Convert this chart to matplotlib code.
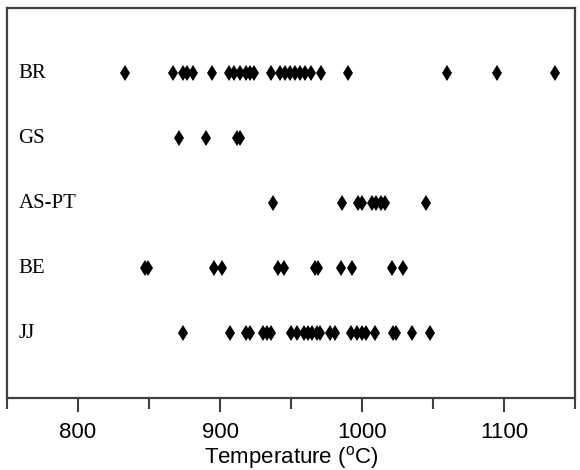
import matplotlib.pyplot as plt
from matplotlib.ticker import MultipleLocator

# Temperature estimates (degC) per locality
groups = ["JJ", "BE", "AS-PT", "GS", "BR"]
jj = [874, 907, 918, 921, 930, 933, 936, 950, 954, 959, 962, 965, 968, 970,
      977, 981, 992, 996, 1000, 1003, 1009, 1022, 1024, 1035, 1048]
be = [847, 849, 896, 901, 941, 945, 967, 969, 985, 993, 1021, 1029]
as_pt = [937, 986, 997, 1000, 1007, 1010, 1013, 1016, 1045]
gs = [871, 890, 912, 914]
br = [833, 867, 874, 877, 881, 894, 906, 910, 914, 918, 921, 924, 936, 942,
      946, 949, 953, 956, 960, 964, 971, 990, 1060, 1095, 1136]
series = [jj, be, as_pt, gs, br]

fig = plt.figure(figsize=(5.8, 4.7), dpi=100)
ax = fig.add_axes([0.012, 0.153, 0.98, 0.83])

for i, (name, vals) in enumerate(zip(groups, series), start=1):
    ax.plot(vals, [i] * len(vals), linestyle="none", marker="d",
            color="black", markersize=8, markeredgewidth=0)
    ax.text(0.02, i, name, transform=ax.get_yaxis_transform(),
            va="center", ha="left", fontsize=15, family="Liberation Serif")

ax.set_xlim(750, 1150)
ax.set_ylim(0, 6)
ax.set_yticks([])
ax.xaxis.set_major_locator(MultipleLocator(100))
ax.xaxis.set_minor_locator(MultipleLocator(100, offset=50))
ax.tick_params(axis="x", which="major", direction="out", length=10,
               width=1.5, color="#404040", pad=7, labelsize=16)
ax.tick_params(axis="x", which="minor", direction="out", length=8,
               width=1.5, color="#404040")
for lab in ax.get_xticklabels():
    lab.set_family("Liberation Sans")
for sp in ax.spines.values():
    sp.set_color("#404040")
    sp.set_linewidth(1.6)

ax.set_xlabel(r"Temperature ($\mathregular{^o}$C)", fontsize=16,
              family="Liberation Sans", labelpad=1)

fig.savefig("out.png", dpi=100)
